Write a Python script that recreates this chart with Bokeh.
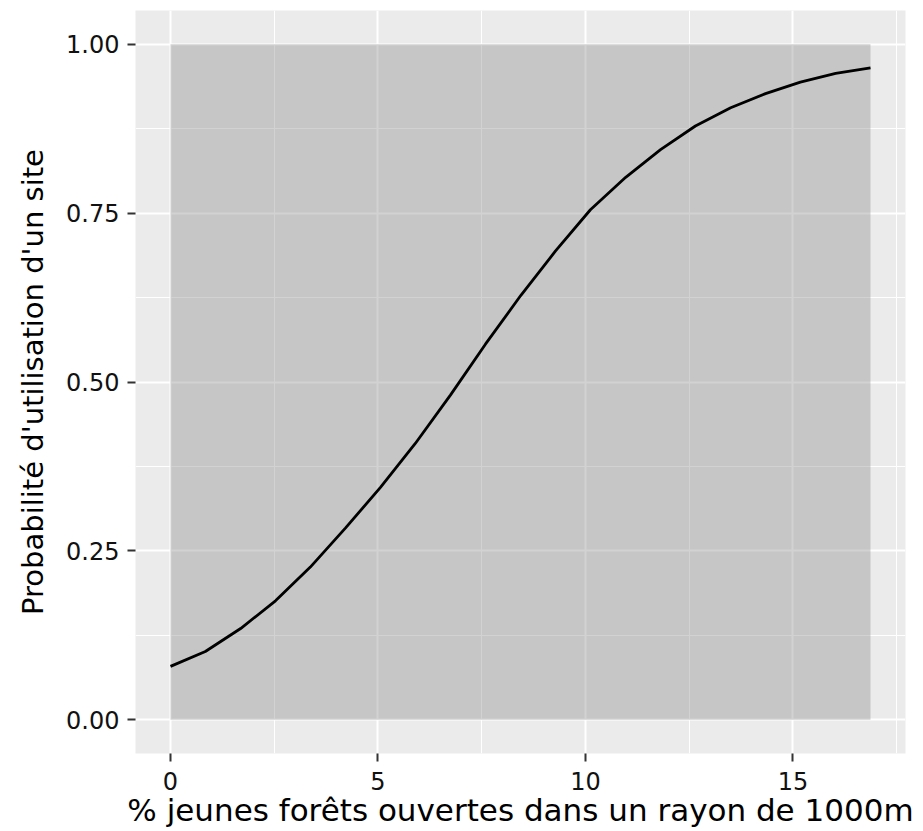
from bokeh.plotting import figure
from bokeh.models import Range1d, FixedTicker
from bokeh.embed import file_html
from bokeh.resources import INLINE

# Fitted curve (21 prediction points)
x_vals = [0.0, 0.84, 1.69, 2.53, 3.37, 4.22, 5.06, 5.90, 6.75, 7.59, 8.44,
          9.28, 10.12, 10.97, 11.81, 12.65, 13.50, 14.34, 15.18, 16.03, 16.87]
y_vals = [0.079, 0.101, 0.135, 0.176, 0.226, 0.284, 0.344, 0.409, 0.481, 0.556,
          0.628, 0.694, 0.755, 0.803, 0.844, 0.879, 0.906, 0.927, 0.944, 0.957,
          0.965]

# Confidence band (spans the full 0-1 range)
band_x = [0.0, 16.87]
band_lower = [0.0, 0.0]
band_upper = [1.0, 1.0]

x_ticks = [0, 5, 10, 15]
x_tick_labels = ["0", "5", "10", "15"]
x_minor = [2.5, 7.5, 12.5, 17.5]
y_ticks = [0.0, 0.25, 0.5, 0.75, 1.0]
y_tick_labels = ["0.00", "0.25", "0.50", "0.75", "1.00"]
y_minor = [0.125, 0.375, 0.625, 0.875]

x_title = "% jeunes forêts ouvertes dans un rayon de 1000m"
y_title = "Probabilité d'utilisation d'un site"

FONT = "DejaVu Sans"

xmin, xmax = min(x_vals), max(x_vals)
xpad = 0.05 * (xmax - xmin)
ymin, ymax = 0.0, 1.0
ypad = 0.05 * (ymax - ymin)

p = figure(width=923, height=831, output_backend="svg", toolbar_location=None,
           x_range=Range1d(xmin - xpad, xmax + xpad),
           y_range=Range1d(ymin - ypad, ymax + ypad),
           min_border_left=135, min_border_right=18,
           min_border_top=10, min_border_bottom=78)

p.background_fill_color = "#EBEBEB"
p.border_fill_color = "white"
p.outline_line_color = None

# ticks / grid
p.xaxis.ticker = FixedTicker(ticks=x_ticks, minor_ticks=x_minor)
p.yaxis.ticker = FixedTicker(ticks=y_ticks, minor_ticks=y_minor)
p.xgrid.ticker = FixedTicker(ticks=x_ticks, minor_ticks=x_minor)
p.ygrid.ticker = FixedTicker(ticks=y_ticks, minor_ticks=y_minor)
p.xaxis.major_label_overrides = {t: l for t, l in zip(x_ticks, x_tick_labels)}
p.yaxis.major_label_overrides = {t: l for t, l in zip(y_ticks, y_tick_labels)}

p.grid.grid_line_color = "white"
p.grid.grid_line_width = 2
p.grid.minor_grid_line_color = "white"
p.grid.minor_grid_line_width = 1

for ax in (p.xaxis, p.yaxis):
    ax.axis_line_color = None
    ax.minor_tick_line_color = None
    ax.major_tick_in = 0
    ax.major_tick_out = 8
    ax.major_tick_line_color = "#333333"
    ax.major_tick_line_width = 2
    ax.major_label_text_font = FONT
    ax.major_label_text_font_size = "24px"
    ax.major_label_text_color = "#111111"
    ax.axis_label_text_font = FONT
    ax.axis_label_text_font_style = "normal"
    ax.axis_label_text_color = "black"

p.xaxis.axis_label = x_title
p.xaxis.axis_label_text_font_size = "31px"
p.xaxis.major_label_standoff = 10
p.xaxis.axis_label_standoff = -1

p.yaxis.axis_label = y_title
p.yaxis.axis_label_text_font_size = "29px"
p.yaxis.major_label_standoff = 8
p.yaxis.axis_label_standoff = 13

p.varea(x=band_x, y1=band_lower, y2=band_upper, fill_color="#8F8F8F", fill_alpha=0.4)
p.line(x=x_vals, y=y_vals, line_color="black", line_width=2.8)

open("out.html", "w").write(file_html(p, INLINE))
